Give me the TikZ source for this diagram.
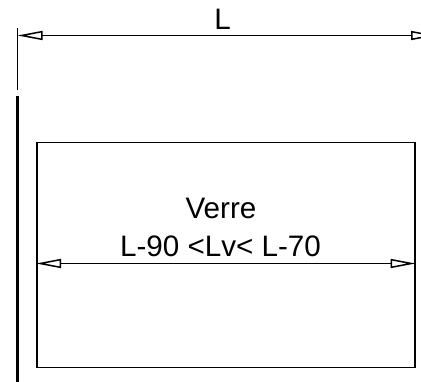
\documentclass[tikz,border=0pt]{standalone}
\usepackage{fontspec}
\setmainfont{Liberation Sans}
\usetikzlibrary{arrows.meta}
\tikzset{
  dimline/.style={line width=1.5pt,{Triangle[open,length=25pt,width=9pt]}-{Triangle[open,length=25pt,width=9pt]}},
  extline/.style={line width=1.3pt},
  wall/.style={line width=3.8pt},
  glass/.style={draw,line width=1.5pt,minimum width=378pt,minimum height=225pt,inner sep=0pt,anchor=north west},
  label/.style={inner sep=0pt,anchor=base,font=\fontsize{29.6}{30}\selectfont}
}
\begin{document}
\begin{tikzpicture}[x=1pt,y=-1pt]
\useasboundingbox (0,0) rectangle (421,382);
\clip (0,0) rectangle (421,382);
\node[glass] (verre) at (36,141.7) {};
\coordinate (extTop) at (17.5,28);
\coordinate (extBot) at (17.5,90);
\coordinate (wallTop) at (17.5,96);
\coordinate (wallBot) at (17.5,382);
\coordinate (dimL) at (17.5,35.5);
\coordinate (dimR) at (436,35.5);
\coordinate (inL) at (verre.west |- 0,263.5);
\coordinate (inR) at (verre.east |- 0,263.5);
\draw[extline] (extTop) -- (extBot);
\draw[wall] (wallTop) -- (wallBot);
\draw[dimline] (dimL) -- (dimR);
\draw[dimline] (inL) -- (inR);
\node[label] (lenL) at (222.5,30) {L};
\node[label] (titre) at (221,219) {Verre};
\node[label] (plage) at (220.5,257) {L-90 <Lv< L-70};
\end{tikzpicture}
\end{document}
